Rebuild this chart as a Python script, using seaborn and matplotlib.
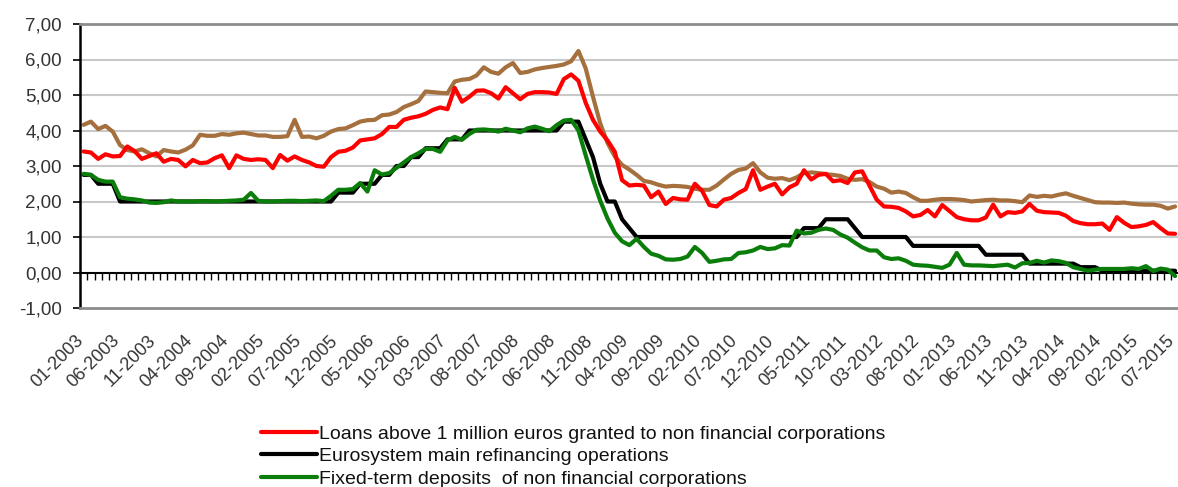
import numpy as np
import pandas as pd
import matplotlib
matplotlib.use("Agg")
import matplotlib.pyplot as plt
import seaborn as sns

# ---------------- data (monthly, 01-2003 .. 07-2015) ----------------
months = pd.date_range("2003-01-01", periods=151, freq="MS").strftime("%m-%Y").tolist()

loans_red = [
    3.41, 3.38, 3.20, 3.33, 3.27, 3.28, 3.55, 3.42, 3.20, 3.28,
    3.36, 3.12, 3.20, 3.17, 2.99, 3.17, 3.08, 3.10, 3.22, 3.30,
    2.94, 3.30, 3.20, 3.17, 3.19, 3.17, 2.94, 3.31, 3.15, 3.27,
    3.17, 3.10, 3.00, 2.98, 3.25, 3.40, 3.43, 3.52, 3.72, 3.75,
    3.78, 3.90, 4.10, 4.10, 4.30, 4.36, 4.40, 4.47, 4.58, 4.65,
    4.60, 5.20, 4.81, 4.95, 5.12, 5.13, 5.05, 4.90, 5.22, 5.05,
    4.88, 5.03, 5.08, 5.08, 5.07, 5.03, 5.45, 5.58, 5.40, 4.78,
    4.30, 3.97, 3.72, 3.40, 2.60, 2.45, 2.47, 2.45, 2.12, 2.28,
    1.93, 2.10, 2.06, 2.05, 2.50, 2.30, 1.90, 1.86, 2.05, 2.10,
    2.24, 2.35, 2.88, 2.33, 2.42, 2.50, 2.20, 2.40, 2.50, 2.88,
    2.62, 2.75, 2.78, 2.57, 2.60, 2.52, 2.82, 2.85, 2.45, 2.05,
    1.86, 1.85, 1.82, 1.72, 1.58, 1.62, 1.76, 1.58, 1.90, 1.73,
    1.56, 1.50, 1.47, 1.47, 1.55, 1.91, 1.58, 1.70, 1.68, 1.72,
    1.93, 1.74, 1.70, 1.69, 1.68, 1.60, 1.45, 1.39, 1.36, 1.36,
    1.38, 1.20, 1.56, 1.40, 1.28, 1.30, 1.34, 1.42, 1.25, 1.10,
    1.09,
]

mro_black = (
    [2.75] * 2 + [2.50] * 3 + [2.00] * 30 + [2.25] * 3 + [2.50] * 3
    + [2.75] * 2 + [3.00] * 2 + [3.25] * 2 + [3.50] * 3 + [3.75] * 3
    + [4.00] * 13 + [4.25] * 3 + [3.75, 3.25, 2.50, 2.00, 2.00, 1.50, 1.25]
    + [1.00] * 23 + [1.25] * 3 + [1.50] * 4 + [1.25] + [1.00] * 7
    + [0.75] * 10 + [0.50] * 6 + [0.25] * 7 + [0.15] * 3 + [0.05] * 11
)

deposits_green = [
    2.78, 2.75, 2.61, 2.56, 2.56, 2.12, 2.08, 2.06, 2.03, 1.97,
    1.96, 1.98, 2.03, 2.00, 2.00, 2.00, 2.01, 2.01, 2.00, 2.01,
    2.02, 2.03, 2.05, 2.24, 2.02, 2.00, 2.00, 2.01, 2.02, 2.02,
    2.01, 2.02, 2.03, 2.01, 2.16, 2.33, 2.33, 2.35, 2.52, 2.28,
    2.88, 2.76, 2.80, 2.95, 3.10, 3.25, 3.36, 3.48, 3.48, 3.40,
    3.72, 3.82, 3.74, 3.90, 4.02, 4.03, 4.01, 3.97, 4.05, 4.00,
    3.95, 4.06, 4.11, 4.05, 3.98, 4.15, 4.28, 4.30, 4.00, 3.30,
    2.62, 2.02, 1.52, 1.12, 0.88, 0.77, 0.95, 0.72, 0.53, 0.47,
    0.37, 0.36, 0.38, 0.45, 0.72, 0.55, 0.30, 0.33, 0.37, 0.38,
    0.55, 0.57, 0.62, 0.72, 0.66, 0.68, 0.77, 0.76, 1.18, 1.10,
    1.12, 1.20, 1.24, 1.20, 1.07, 0.98, 0.84, 0.71, 0.62, 0.62,
    0.43, 0.38, 0.40, 0.33, 0.22, 0.20, 0.19, 0.16, 0.13, 0.22,
    0.55, 0.22, 0.20, 0.20, 0.19, 0.18, 0.20, 0.22, 0.14, 0.26,
    0.27, 0.33, 0.28, 0.34, 0.32, 0.27, 0.15, 0.10, 0.05, 0.08,
    0.10, 0.10, 0.10, 0.10, 0.12, 0.10, 0.18, 0.04, 0.11, 0.08,
    -0.10,
]

other_brown = [
    4.16, 4.25, 4.04, 4.13, 3.97, 3.59, 3.45, 3.41, 3.47, 3.36,
    3.27, 3.45, 3.41, 3.38, 3.46, 3.58, 3.88, 3.85, 3.85, 3.90,
    3.88, 3.92, 3.94, 3.90, 3.86, 3.86, 3.82, 3.82, 3.84, 4.30,
    3.82, 3.83, 3.78, 3.85, 3.97, 4.04, 4.06, 4.15, 4.25, 4.29,
    4.30, 4.43, 4.45, 4.52, 4.66, 4.74, 4.83, 5.10, 5.08, 5.06,
    5.05, 5.38, 5.43, 5.45, 5.55, 5.78, 5.65, 5.60, 5.78, 5.90,
    5.62, 5.65, 5.72, 5.76, 5.79, 5.82, 5.86, 5.95, 6.24, 5.75,
    4.95, 4.20, 3.65, 3.27, 3.03, 2.90, 2.75, 2.58, 2.54, 2.47,
    2.42, 2.44, 2.43, 2.41, 2.36, 2.33, 2.33, 2.45, 2.62, 2.78,
    2.89, 2.93, 3.08, 2.82, 2.67, 2.64, 2.66, 2.60, 2.68, 2.80,
    2.82, 2.80, 2.77, 2.75, 2.72, 2.64, 2.61, 2.63, 2.55, 2.42,
    2.36, 2.25, 2.28, 2.24, 2.12, 2.02, 2.02, 2.05, 2.07, 2.07,
    2.06, 2.04, 2.00, 2.02, 2.04, 2.05, 2.03, 2.03, 2.01, 1.98,
    2.17, 2.13, 2.16, 2.14, 2.19, 2.23, 2.16, 2.10, 2.04, 1.98,
    1.97, 1.97, 1.96, 1.97, 1.94, 1.92, 1.91, 1.91, 1.88, 1.80,
    1.86,
]

series_labels = [
    "Loans above 1 million euros granted to non financial corporations",
    "Eurosystem main refinancing operations",
    "Fixed-term deposits  of non financial corporations",
]
tick_step = 5
y_ticks = [-1, 0, 1, 2, 3, 4, 5, 6, 7]

# ---------------- figure ----------------
sns.set_style("white")
plt.rcParams["font.family"] = ["Liberation Sans", "DejaVu Sans"]

W, H = 1178, 487
fig = plt.figure(figsize=(W / 100, H / 100), dpi=100)
ax = fig.add_axes([80 / W, 1 - 308 / H, 1098.7 / W, 284 / H])

pos = np.arange(len(months))
df = pd.DataFrame({"pos": pos, "red": loans_red, "black": mro_black,
                   "green": deposits_green, "brown": other_brown})

lw = 3.0
sns.lineplot(data=df, x="pos", y="brown", color="#A5703E", lw=lw, ax=ax, label="_nolegend_")
sns.lineplot(data=df, x="pos", y="red", color="#FF0000", lw=lw, ax=ax, label=series_labels[0])
sns.lineplot(data=df, x="pos", y="black", color="#000000", lw=lw, ax=ax, label=series_labels[1])
sns.lineplot(data=df, x="pos", y="green", color="#0A7D0A", lw=lw, ax=ax, label=series_labels[2])

ax.set_xlim(-0.5, len(months) - 0.5)
ax.set_ylim(-1, 7)
ax.set_xlabel("")
ax.set_ylabel("")

# y axis
ax.set_yticks(y_ticks)
ax.set_yticklabels([f"{v:.2f}".replace(".", ",") for v in y_ticks])
ax.tick_params(axis="y", direction="out", length=5, width=1.2, color="#000000",
               labelsize=13.5, labelcolor="#333333", pad=8, left=True)
for v in y_ticks[2:-1]:
    ax.axhline(v, color="#C8C8C8", lw=1.5, zorder=0)

# spines
ax.spines["left"].set_color("#000000")
ax.spines["left"].set_linewidth(1.8)
ax.spines["top"].set_color("#8C8C8C")
ax.spines["top"].set_linewidth(2)
ax.spines["bottom"].set_color("#8C8C8C")
ax.spines["bottom"].set_linewidth(2)
ax.spines["right"].set_visible(False)

# x labels (below frame)
xt = pos[::tick_step]
ax.set_xticks(xt)
ax.set_xticklabels([months[i] for i in xt])
ax.tick_params(axis="x", length=0, labelsize=13, labelcolor="#333333", pad=24)
for lab in ax.get_xticklabels():
    lab.set_rotation(45)
    lab.set_ha("right")
    lab.set_va("baseline")
    lab.set_rotation_mode("anchor")

# category axis at y = 0 with boundary ticks
sec = ax.secondary_xaxis(1 / 8)
sec.set_xticks(np.arange(0.5, len(months) - 1, 1.0))
sec.tick_params(axis="x", direction="out", length=5, width=1, color="#000000", labelbottom=False)
sec.set_xticklabels([])
sec.spines["bottom"].set_color("#000000")
sec.spines["bottom"].set_linewidth(1.5)

# legend
if ax.legend_:
    ax.legend_.remove()
handles, labels = ax.get_legend_handles_labels()
leg = fig.legend(handles, labels, loc="upper left", bbox_to_anchor=(261 / W, 1 - 425 / H),
                 frameon=False, fontsize=14, handlelength=2.9, handletextpad=0.1,
                 labelspacing=0.25, borderaxespad=0, borderpad=0)
for t in leg.get_texts():
    t.set_color("#111111")

fig.savefig("out.png", dpi=100)
